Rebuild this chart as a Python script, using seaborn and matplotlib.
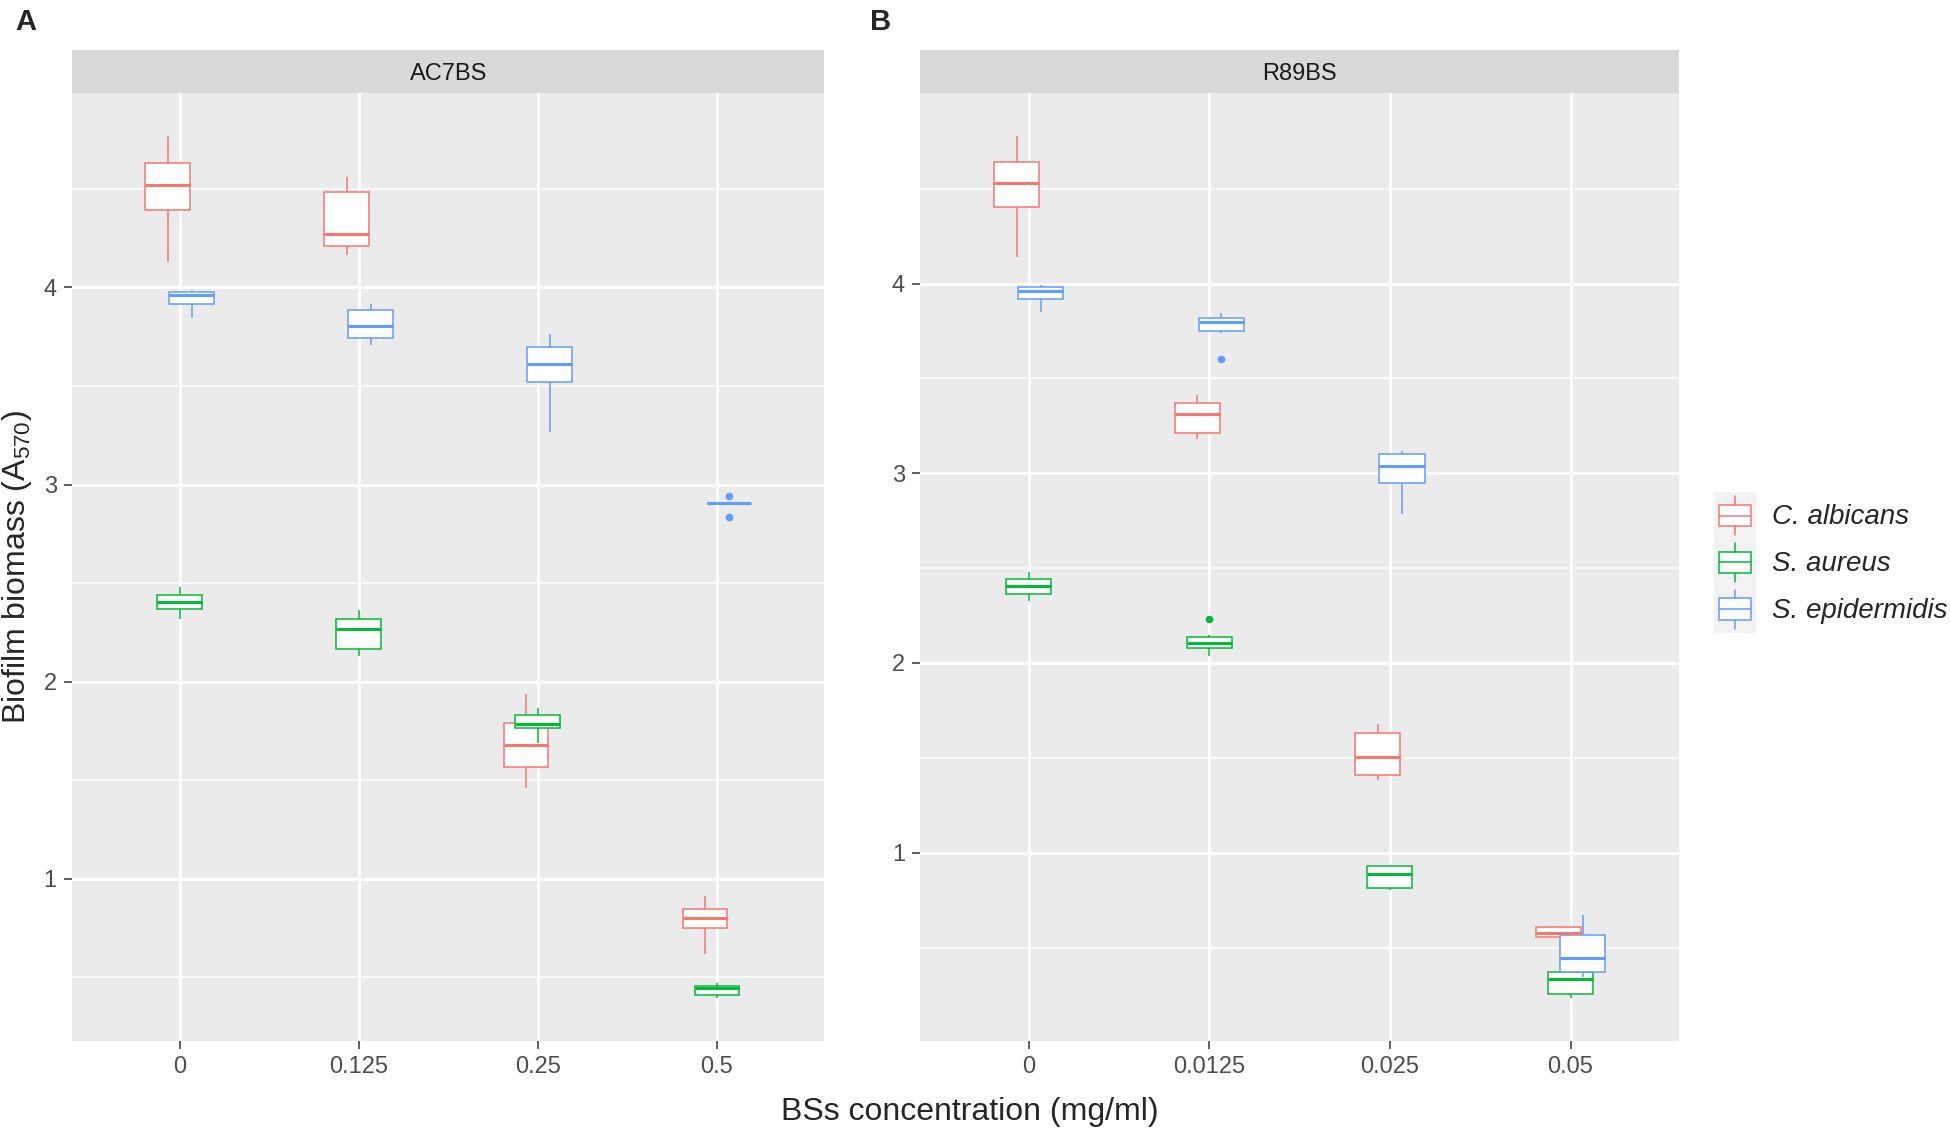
import numpy as np
import pandas as pd
import seaborn as sns
import matplotlib
matplotlib.use("Agg")
import matplotlib.pyplot as plt
from matplotlib.patches import Rectangle, Patch
from matplotlib.lines import Line2D
from matplotlib.legend_handler import HandlerBase
from matplotlib.ticker import FixedLocator

# species and ggplot default hue colours
species = ["C. albicans", "S. aureus", "S. epidermidis"]
colors = ["#F8766D", "#00BA38", "#619CFF"]

# panel A: AC7BS, one list of replicate readings per concentration
ac7_conc = ["0", "0.125", "0.25", "0.5"]
ac7_calb = [[4.129, 4.393, 4.521, 4.630, 4.767],
            [4.166, 4.211, 4.273, 4.483, 4.561],
            [1.458, 1.569, 1.681, 1.792, 1.935],
            [0.619, 0.749, 0.800, 0.846, 0.915]]
ac7_saur = [[2.319, 2.366, 2.405, 2.440, 2.480],
            [2.128, 2.165, 2.266, 2.317, 2.363],
            [1.690, 1.765, 1.785, 1.830, 1.864],
            [0.396, 0.412, 0.446, 0.454, 0.469]]
ac7_sepi = [[3.845, 3.914, 3.960, 3.978, 3.987],
            [3.709, 3.745, 3.803, 3.883, 3.918],
            [3.268, 3.519, 3.610, 3.696, 3.765],
            [2.836, 2.905, 2.905, 2.905, 2.942]]

# panel B: R89BS
r89_conc = ["0", "0.0125", "0.025", "0.05"]
r89_calb = [[4.140, 4.403, 4.528, 4.642, 4.777],
            [3.180, 3.214, 3.311, 3.369, 3.411],
            [1.385, 1.412, 1.505, 1.629, 1.680],
            [0.550, 0.556, 0.579, 0.606, 0.615]]
r89_saur = [[2.325, 2.366, 2.408, 2.442, 2.481],
            [2.039, 2.060, 2.080, 2.095, 2.106, 2.120, 2.138, 2.145, 2.231],
            [0.802, 0.815, 0.889, 0.929, 0.932],
            [0.235, 0.253, 0.332, 0.371, 0.375]]
r89_sepi = [[3.850, 3.919, 3.962, 3.983, 3.990],
            [3.602, 3.739, 3.750, 3.780, 3.795, 3.805, 3.818, 3.835, 3.847],
            [2.787, 2.947, 3.037, 3.104, 3.115],
            [0.347, 0.373, 0.444, 0.565, 0.671]]


def long_table(conc, calb, saur, sepi):
    rows = []
    for sp, boxes in zip(species, [calb, saur, sepi]):
        for c, vals in zip(conc, boxes):
            for v in vals:
                rows.append({"conc": c, "species": sp, "value": v})
    return pd.DataFrame(rows)


ac7_df = long_table(ac7_conc, ac7_calb, ac7_saur, ac7_sepi)
r89_df = long_table(r89_conc, r89_calb, r89_saur, r89_sepi)


class BoxKey(HandlerBase):
    # ggplot-like legend key: grey square with a little boxplot
    def create_artists(self, legend, orig_handle, xdescent, ydescent,
                       width, height, fontsize, trans):
        c = orig_handle.get_edgecolor()
        x0, y0 = -xdescent, -ydescent
        bg = Rectangle((x0, y0), width, height, facecolor="#F2F2F2",
                       edgecolor="none", transform=trans)
        box = Rectangle((x0 + 0.12 * width, y0 + 0.27 * height), 0.76 * width,
                        0.46 * height, facecolor="white", edgecolor=c,
                        lw=1.1, transform=trans)
        med = Line2D([x0 + 0.12 * width, x0 + 0.88 * width],
                     [y0 + 0.5 * height] * 2, color=c, lw=1.1, transform=trans)
        w_top = Line2D([x0 + width / 2] * 2, [y0 + 0.73 * height, y0 + 0.92 * height],
                       color=c, lw=1.1, transform=trans)
        w_bot = Line2D([x0 + width / 2] * 2, [y0 + 0.08 * height, y0 + 0.27 * height],
                       color=c, lw=1.1, transform=trans)
        return [bg, box, med, w_top, w_bot]


sns.set_theme(style="darkgrid")
plt.rcParams["font.family"] = ["Liberation Sans", "DejaVu Sans"]
plt.rcParams["mathtext.fontset"] = "custom"
plt.rcParams["mathtext.rm"] = "Liberation Sans"
plt.rcParams["mathtext.default"] = "regular"

palette = dict(zip(species, colors))
fig = plt.figure(figsize=(19.5, 11.34), dpi=100)

panels = [("AC7BS", ac7_df, ac7_conc, 0.0370, 0.3858),
          ("R89BS", r89_df, r89_conc, 0.4719, 0.3891)]
bottom, height, strip_h = 0.0821, 0.8358, 0.0383

for name, df, conc, x0, w in panels:
    ax = fig.add_axes([x0, bottom, w, height])
    for sp in species:
        col = palette[sp]
        sns.boxplot(data=df[df["species"] == sp], x="conc", y="value",
                    hue="species", order=conc, hue_order=species,
                    palette=palette, dodge=True, width=0.2, gap=-2.75,
                    linecolor=col, linewidth=1.1, showcaps=False,
                    boxprops=dict(facecolor="white"),
                    medianprops=dict(linewidth=2.2),
                    flierprops=dict(marker="o", markerfacecolor=col,
                                    markeredgecolor=col, markersize=4.5),
                    legend=False, ax=ax)

    lo, hi = df["value"].min(), df["value"].max()
    pad = 0.05 * (hi - lo)
    ax.set_ylim(lo - pad, hi + pad)
    ax.set_xlim(-0.6, len(conc) - 0.4)
    ax.set_facecolor("#EBEBEB")
    for s in ax.spines.values():
        s.set_visible(False)
    ax.yaxis.set_major_locator(FixedLocator([1, 2, 3, 4]))
    ax.yaxis.set_minor_locator(FixedLocator([0.5, 1.5, 2.5, 3.5, 4.5]))
    ax.set_axisbelow(True)
    ax.grid(which="major", axis="both", color="white", lw=2.2)
    ax.grid(which="minor", axis="y", color="white", lw=1.1)
    ax.tick_params(axis="both", which="major", bottom=True, left=True,
                   length=6, width=1.1, color="#333333",
                   labelcolor="#4D4D4D", labelsize=17, pad=5)
    ax.tick_params(which="minor", length=0)
    ax.set_xlabel("")
    ax.set_ylabel("")

    # facet strip
    sax = fig.add_axes([x0, bottom + height, w, strip_h])
    sax.set_facecolor("#D9D9D9")
    sax.set_xticks([])
    sax.set_yticks([])
    sax.grid(False)
    for s in sax.spines.values():
        s.set_visible(False)
    sax.text(0.5, 0.5, name, ha="center", va="center_baseline", fontsize=17,
             color="#1A1A1A", transform=sax.transAxes)

fig.text(0.0077, 0.981, "A", fontsize=21, fontweight="bold", va="center", ha="left")
fig.text(0.4464, 0.981, "B", fontsize=21, fontweight="bold", va="center", ha="left")
fig.text(0.0085, 0.5, "Biofilm biomass (A$_{570}$)", rotation=90,
         fontsize=23, ha="center", va="center")
fig.text(0.4974, 0.0197, "BSs concentration (mg/ml)", fontsize=23,
         ha="center", va="center")

handles = [Patch(edgecolor=c, facecolor="white", label=sp) for sp, c in zip(species, colors)]
fig.legend(handles=handles, labels=species, loc="center left",
           bbox_to_anchor=(0.8788, 0.504), frameon=False,
           prop=dict(style="italic", size=20), handler_map={Patch: BoxKey()},
           handlelength=1.52, handleheight=2.21, handletextpad=0.58,
           labelspacing=0, borderpad=0, borderaxespad=0)

fig.savefig("out.png", dpi=100, facecolor="white")
